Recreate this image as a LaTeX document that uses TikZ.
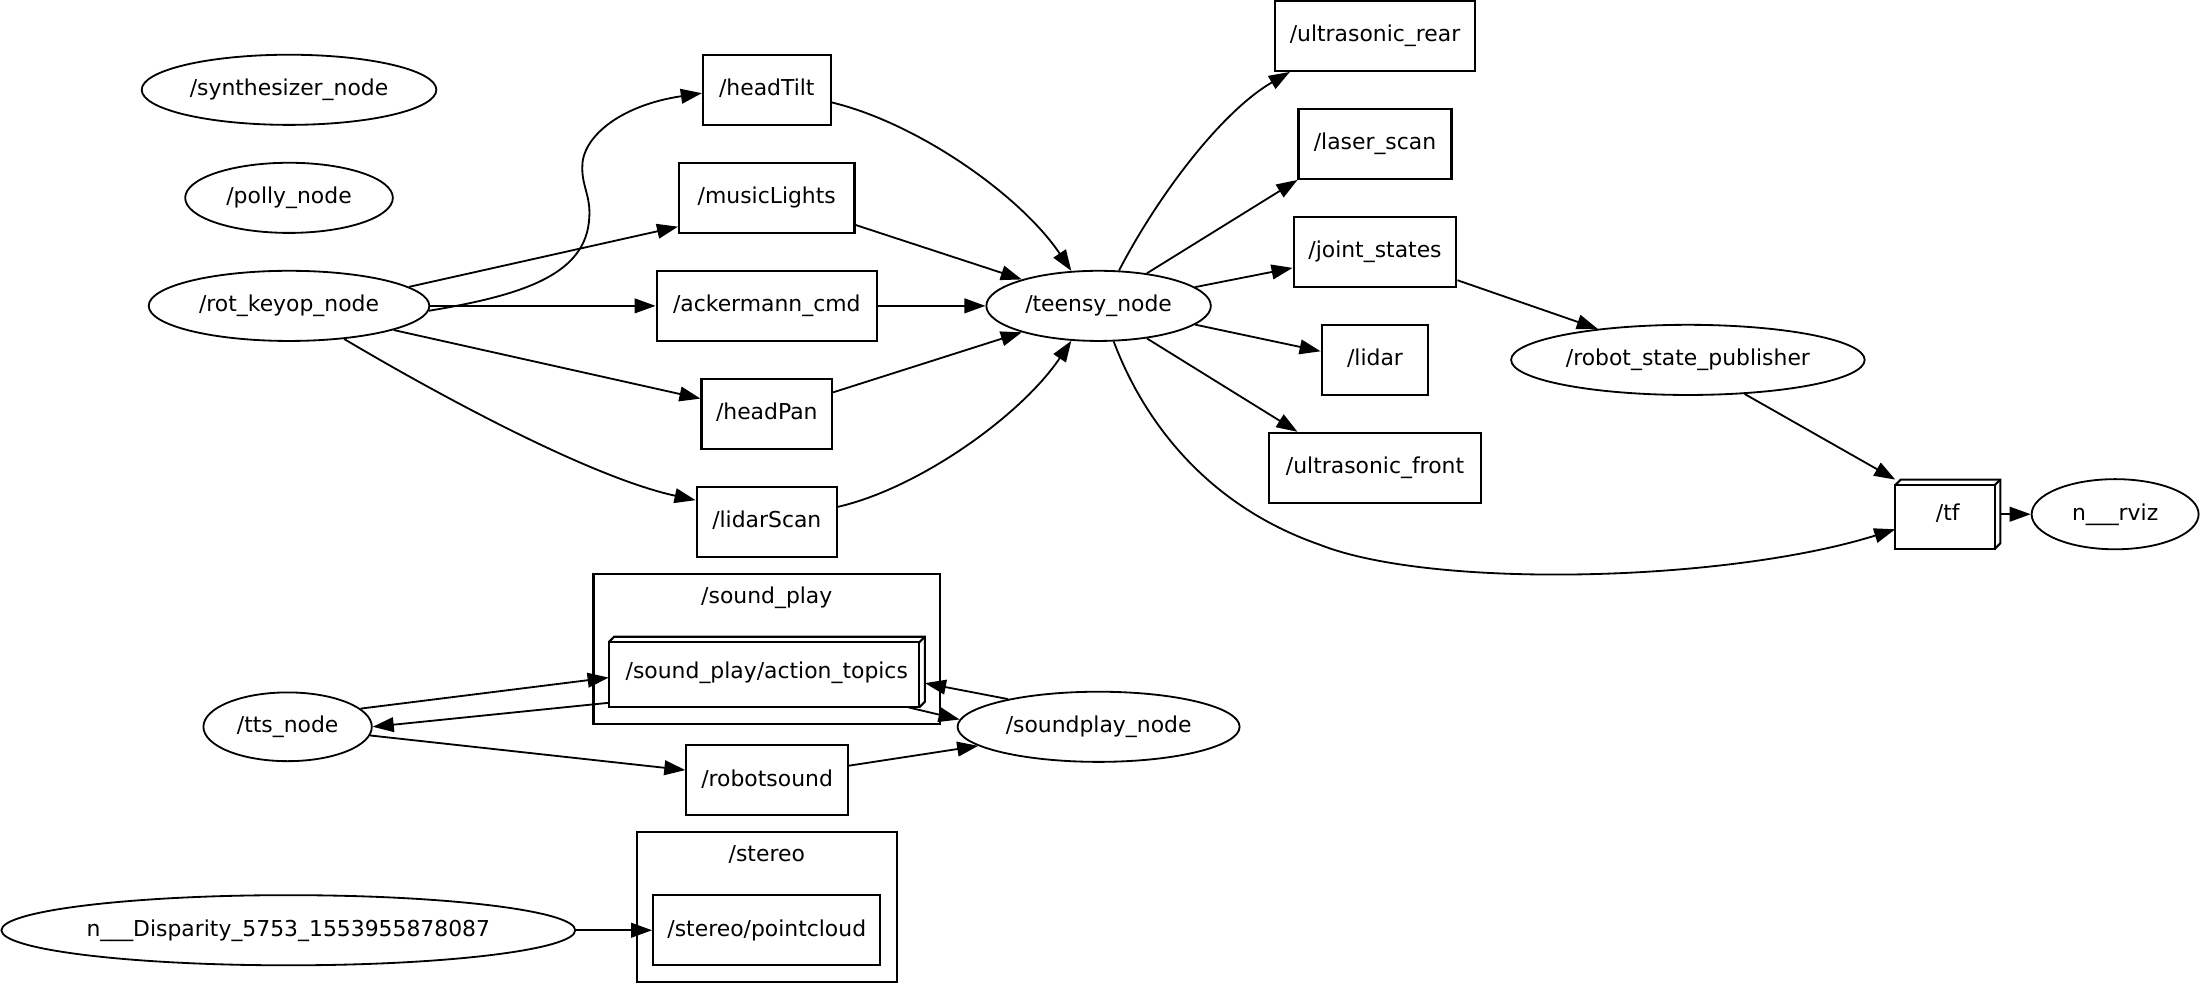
\documentclass[tikz,border=0pt]{standalone}
\usepackage{fontspec}
\setmainfont{DejaVu Sans}
\usetikzlibrary{arrows.meta,shapes.geometric}

\newcommand\drawcube[1]{%
  \draw[line width=1.5pt] (#1.south west) rectangle ([xshift=-4pt,yshift=-4pt]#1.north east);
  \draw[line width=1.5pt] ([yshift=-4pt]#1.north west) -- ([xshift=4pt]#1.north west) -- (#1.north east)
    -- ([yshift=4pt]#1.south east) -- ([xshift=-4pt]#1.south east);
  \draw[line width=1.5pt] ([xshift=-4pt,yshift=-4pt]#1.north east) -- (#1.north east);}

\begin{document}
\begin{tikzpicture}[x=1pt,y=-1pt,font=\fontsize{15.6}{18}\selectfont,
  >={Triangle[length=15pt,width=10.5pt]},
  lbl/.style={inner sep=0pt,text height=12pt,text depth=3.5pt},
  topic/.style={lbl,draw,rectangle,line width=1.5pt,minimum height=50pt},
  cube/.style={lbl,rectangle,minimum height=50pt},
  rosnode/.style={lbl,draw,ellipse,line width=1.3pt,minimum height=50pt},
  grp/.style={draw,line width=1.5pt,inner sep=0pt},
  conn/.style={->,line width=1.3pt}]
  \useasboundingbox (0,0) rectangle (1568,701);

  \node[grp,minimum width=247pt,minimum height=107pt] (soundgrp) at (546.5,462.5) {};
  \node[lbl] (soundtitle) at (546.5,426) {/sound\_play};
  \node[grp,minimum width=185.5pt,minimum height=107pt] (stereogrp) at (546.75,646.5) {};
  \node[lbl] (stereotitle) at (546.5,610) {/stereo};

  \node[rosnode,minimum width=210pt] (synth) at (206,64) {/synthesizer\_node};
  \node[rosnode,minimum width=148pt] (polly) at (206,141) {/polly\_node};
  \node[rosnode,minimum width=200pt] (keyop) at (206,218) {/rot\_keyop\_node};
  \node[topic,minimum width=91pt] (headtilt) at (546.5,64) {/headTilt};
  \node[topic,minimum width=125pt] (musiclights) at (546.5,141) {/musicLights};
  \node[topic,minimum width=157pt] (ackermann) at (546.5,218) {/ackermann\_cmd};
  \node[topic,minimum width=93pt] (headpan) at (546.5,295) {/headPan};
  \node[topic,minimum width=100pt] (lidarscan) at (546.5,372) {/lidarScan};
  \node[rosnode,minimum width=160pt] (teensy) at (783,218) {/teensy\_node};
  \node[topic,minimum width=143pt] (usrear) at (980,25.5) {/ultrasonic\_rear};
  \node[topic,minimum width=109pt] (laserscan) at (980,102.5) {/laser\_scan};
  \node[topic,minimum width=116pt] (jointstates) at (980,179.5) {/joint\_states};
  \node[topic,minimum width=76pt] (lidar) at (980,256.5) {/lidar};
  \node[topic,minimum width=151pt] (usfront) at (980,333.5) {/ultrasonic\_front};
  \node[rosnode,minimum width=252pt] (rsp) at (1203,256.5) {/robot\_state\_publisher};
  \node[cube,minimum width=74.5pt,minimum height=49pt] (tf) at (1388.25,366.5) {/tf};
  \drawcube{tf}
  \node[rosnode,minimum width=119pt] (rviz) at (1507.5,366.5) {n\_\_\_rviz};

  \node[cube,minimum width=225pt] (actiontopics) at (546.5,479) {/sound\_play/action\_topics};
  \drawcube{actiontopics}
  \node[rosnode,minimum width=120pt,minimum height=49pt] (tts) at (205,518) {/tts\_node};
  \node[rosnode,minimum width=201pt] (soundplay) at (783,518) {/soundplay\_node};
  \node[topic,minimum width=115pt] (robotsound) at (546.7,556) {/robotsound};
  \node[topic,minimum width=162pt] (pointcloud) at (546.5,663) {/stereo/pointcloud};
  \node[rosnode,minimum width=409pt] (disparity) at (205.5,663) {n\_\_\_Disparity\_5753\_1553955878087};

  \draw[conn] (keyop.-2) .. controls (375,210) and (418,195) .. (420,155) .. controls (421,140) and (415,133) .. (415,120)
    .. controls (414,98) and (442,75) .. (headtilt.-177);
  \draw[conn] (keyop.9) -- (musiclights.-162);
  \draw[conn] (keyop.east) -- (ackermann.west);
  \draw[conn] (keyop.-13) -- (headpan.167);
  \draw[conn] (keyop.-31) .. controls (310,280) and (420,340) .. (lidarscan.163);
  \draw[conn] (headtilt.-11) .. controls (655,88) and (728,140) .. (teensy.128);
  \draw[conn] (musiclights.-17) -- (teensy.161);
  \draw[conn] (ackermann.east) -- (teensy.west);
  \draw[conn] (headpan.18) -- (teensy.-161);
  \draw[conn] (lidarscan.12) .. controls (655,348) and (728,296) .. (teensy.-128);
  \draw[conn] (teensy.60) .. controls (825,140) and (870,80) .. (usrear.-157);
  \draw[conn] (teensy.34) -- (laserscan.-155);
  \draw[conn] (teensy.11) -- (jointstates.-169);
  \draw[conn] (teensy.-11) -- (lidar.171);
  \draw[conn] (teensy.-34) -- (usfront.155);
  \draw[conn] (teensy.-67) .. controls (815,300) and (860,360) .. (940,388) .. controls (1020,420) and (1230,415) .. (tf.-164);
  \draw[conn] (jointstates.-19) -- (rsp.161);
  \draw[conn] (rsp.-31) -- (tf.north west);
  \draw[conn] (tf) -- (rviz);
  \draw[conn] (tts.14) -- (actiontopics.-178);
  \draw[conn] (actiontopics.-169) -- (tts.east);
  \draw[conn] (actiontopics.-14) -- (soundplay.177);
  \draw[conn] (soundplay.163) -- (actiontopics.-4);
  \draw[conn] (tts.-6) -- (robotsound.173);
  \draw[conn] (robotsound.10) -- (soundplay.-171);
  \draw[conn] (disparity) -- (pointcloud);
\end{tikzpicture}
\end{document}
